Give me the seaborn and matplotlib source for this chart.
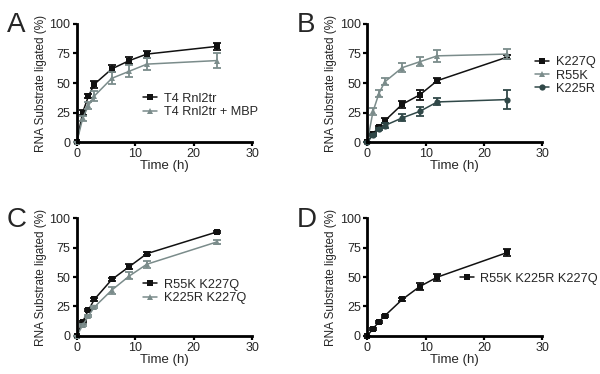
import numpy as np
import pandas as pd
import matplotlib
matplotlib.use("Agg")
import matplotlib.pyplot as plt
import seaborn as sns

# time points (h)
time_h = [0, 1, 2, 3, 6, 9, 12, 24]

# panel A
a_rnl2tr = [0, 25, 39, 49, 62, 69, 74.5, 81]
a_rnl2tr_err = [0, 2, 2, 3, 3, 3, 3, 3]
a_mbp = [0, 20, 31, 39, 54, 60, 66, 69]
a_mbp_err = [0, 2, 3, 4, 5, 5, 5, 6]

# panel B
b_k227q = [0, 7, 13, 18, 32, 40, 52, 72]
b_k227q_err = [0, 1, 1, 2, 3, 4, 2, 2]
b_r55k = [0, 26, 41, 51, 63, 68, 73, 74.5]
b_r55k_err = [0, 3, 3, 3, 4, 4, 5, 4]
b_k225r = [0, 6, 11, 14, 20.5, 26, 34, 36]
b_k225r_err = [0, 1, 1, 2, 3, 4, 3, 8]

# panel C
c_r55k_k227q = [0, 12, 22, 31, 48, 59, 70, 88.5]
c_r55k_k227q_err = [0, 1, 1, 1, 1, 2, 1, 1]
c_k225r_k227q = [0, 9, 17, 24.5, 39, 51, 61, 80]
c_k225r_k227q_err = [0, 1, 1, 1, 3, 3, 3, 2]

# panel D
d_triple = [0, 6, 12, 17, 31, 42, 50, 71]
d_triple_err = [0, 1, 1, 1, 1, 3, 3, 3]

BLACK = "#111111"
GRAY = "#7b8c8b"
DARK = "#304848"

sns.set_theme(style="ticks")
plt.rcParams["font.family"] = ["Liberation Sans", "DejaVu Sans"]
plt.rcParams["font.size"] = 8

fig = plt.figure(figsize=(6, 3.74), dpi=100)

panels = [
    ("A", [0.128, 0.62, 0.292, 0.316],
     [("T4 Rnl2tr", a_rnl2tr, a_rnl2tr_err, BLACK, "s"),
      ("T4 Rnl2tr + MBP", a_mbp, a_mbp_err, GRAY, "^")],
     dict(loc="upper left", bbox_to_anchor=(0.35, 0.46))),
    ("B", [0.612, 0.62, 0.292, 0.316],
     [("K227Q", b_k227q, b_k227q_err, BLACK, "s"),
      ("R55K", b_r55k, b_r55k_err, GRAY, "^"),
      ("K225R", b_k225r, b_k225r_err, DARK, "o")],
     dict(loc="upper left", bbox_to_anchor=(0.93, 0.77))),
    ("C", [0.128, 0.102, 0.292, 0.314],
     [("R55K K227Q", c_r55k_k227q, c_r55k_k227q_err, BLACK, "s"),
      ("K225R K227Q", c_k225r_k227q, c_k225r_k227q_err, GRAY, "^")],
     dict(loc="upper left", bbox_to_anchor=(0.35, 0.53))),
    ("D", [0.612, 0.102, 0.292, 0.314],
     [("R55K K225R K227Q", d_triple, d_triple_err, BLACK, "s")],
     dict(loc="upper left", bbox_to_anchor=(0.5, 0.58))),
]

for letter, rect, series, leg_kw in panels:
    ax = fig.add_axes(rect)
    for label, vals, errs, color, marker in series:
        df = pd.DataFrame({"Time": time_h, "Val": vals})
        sns.lineplot(data=df, x="Time", y="Val", ax=ax, color=color,
                     marker=marker, markersize=4.5, markeredgewidth=0,
                     linewidth=1.1, label=label)
        ax.errorbar(time_h, vals, yerr=errs, fmt="none", ecolor=color,
                    elinewidth=1.3, capsize=3, capthick=1.3)
    ax.set_xlim(0, 30)
    ax.set_ylim(0, 100)
    ax.set_xticks([0, 10, 20, 30])
    ax.set_yticks([0, 25, 50, 75, 100])
    ax.set_xlabel("Time (h)", fontsize=9.5, labelpad=0)
    ax.set_ylabel("RNA Substrate ligated (%)", fontsize=8.5, labelpad=2)
    ax.tick_params(axis="both", direction="out", width=1.6, length=3,
                   labelsize=9, pad=1.5, color="black")
    for s in ["left", "bottom"]:
        ax.spines[s].set_linewidth(2)
        ax.spines[s].set_color("black")
    for s in ["top", "right"]:
        ax.spines[s].set_visible(False)
    for line in ax.lines:
        line.set_clip_on(False)
    leg = ax.legend(frameon=False, fontsize=9.2, handlelength=1.1,
                    handletextpad=0.5, labelspacing=0.1,
                    borderaxespad=0, **leg_kw)
    ax.text(-0.40, 1.1, letter, transform=ax.transAxes, fontsize=20,
            va="top", ha="left")

fig.savefig("out.png", dpi=100)
